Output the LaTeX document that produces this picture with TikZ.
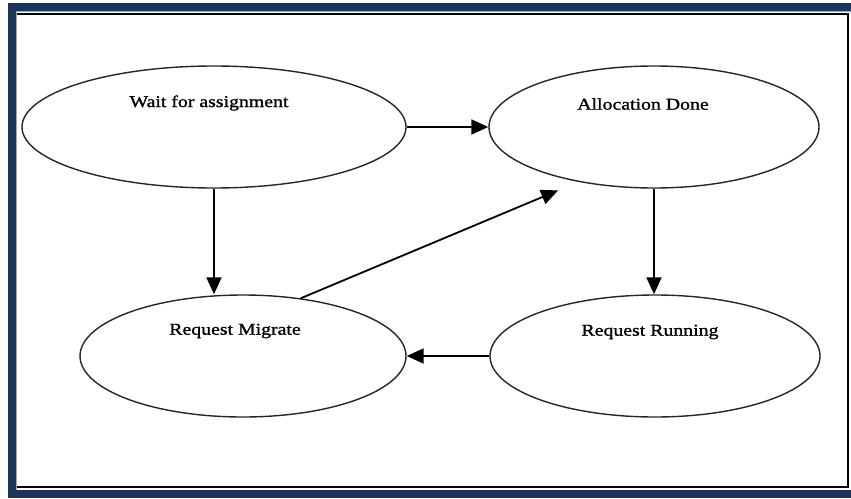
\documentclass[tikz,border=0pt]{standalone}
\usepackage{fontspec}
\setmainfont{Liberation Serif}
\newfontfamily\lblfont[FakeStretch=1.2,FakeBold=1.2]{Liberation Serif}
\usetikzlibrary{shapes.geometric,arrows.meta}
\definecolor{frameblue}{HTML}{1B365D}
\tikzset{
  state/.style={ellipse, draw=black!85, line width=1.4pt, inner sep=0pt,
                minimum height=122pt},
  lbl/.style={font=\lblfont\fontsize{16.5}{18}\selectfont, inner sep=0pt},
  flow/.style={draw=black, line width=1.8pt,
               -{Triangle[length=17pt,width=15pt]}}
}
\begin{document}
\begin{tikzpicture}[x=1pt,y=-1pt]
  \useasboundingbox (0,0) rectangle (851,498);
  % outer frame and panel
  \fill[frameblue] (8,3) rectangle (851,498);
  \fill[white] (16,11) rectangle (851,490);
  \draw[gray!70, line width=1pt] (16.5,490) -- (16.5,11.5) -- (851,11.5);
  \draw[black, line width=2.2pt] (17,14) -- (848,14) -- (848,487) -- (17,487);

  % states
  \node[state, minimum width=384pt] (wait)  at (214,127) {};
  \node[state, minimum width=330pt] (alloc) at (654,127) {};
  \node[state, minimum width=326pt] (mig)   at (243,356) {};
  \node[state, minimum width=330pt] (run)   at (655,356) {};

  % state labels
  \node[lbl] (waitT)  at (209,103) {Wait for assignment};
  \node[lbl] (allocT) at (643,104) {Allocation Done};
  \node[lbl] (migT)   at (235,331) {Request Migrate};
  \node[lbl] (runT)   at (650,332) {Request Running};

  % transitions
  \draw[flow] (wait.east) -- (alloc.west);
  \draw[flow] (wait.south) -- (mig.north -| wait.south);
  \draw[flow] (alloc.south) -- (run.north -| alloc.south);
  \draw[flow] (run.west) -- (mig.east);
  \draw[flow, shorten >=22pt] (mig.45) -- (alloc.216);
\end{tikzpicture}
\end{document}
